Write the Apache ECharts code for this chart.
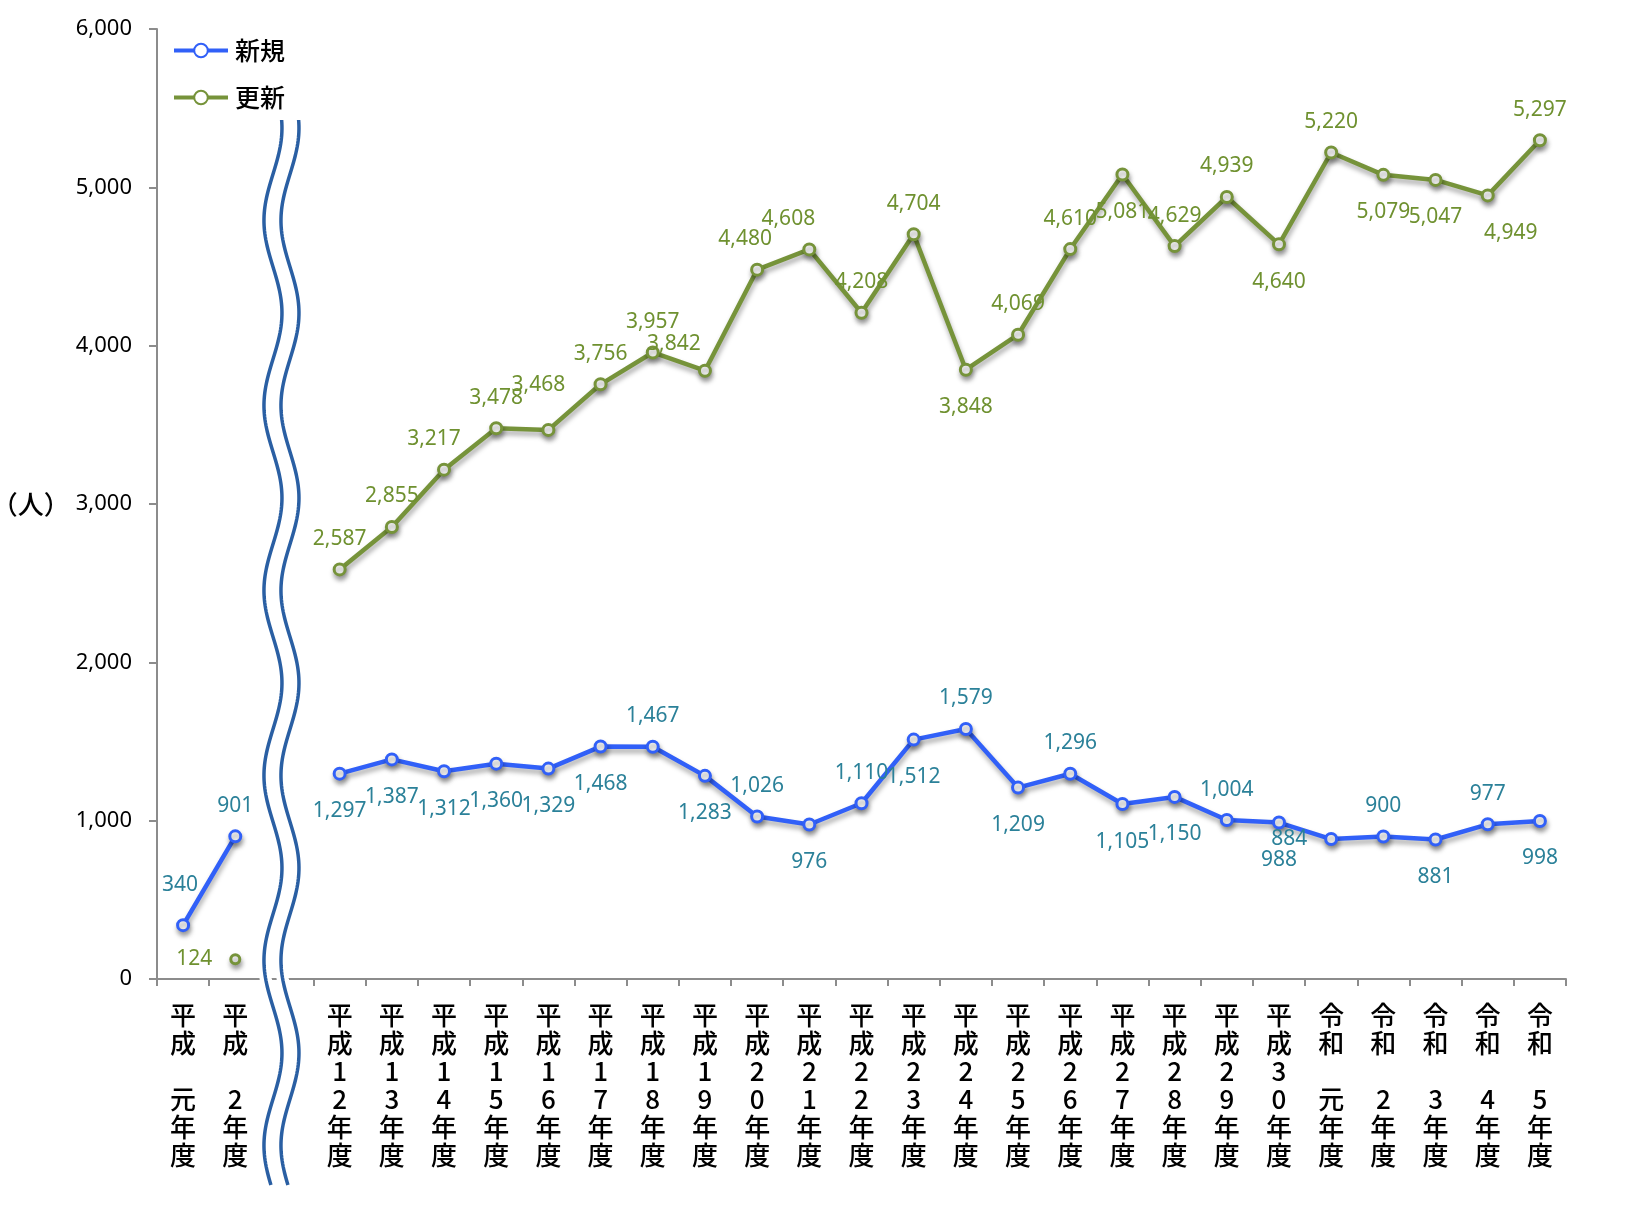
<!DOCTYPE html>
<html>
<head>
<meta charset="utf-8">
<script src="https://cdn.jsdelivr.net/npm/echarts@6/dist/echarts.min.js"></script>
<style>
html,body{margin:0;padding:0;background:#fff;}
#chart{width:1645px;height:1214px;}
</style>
</head>
<body>
<div id="chart"></div>
<script>
// ---- data ----
const categories = ['平成元年度','平成2年度','','平成12年度','平成13年度','平成14年度','平成15年度','平成16年度','平成17年度','平成18年度','平成19年度','平成20年度','平成21年度','平成22年度','平成23年度','平成24年度','平成25年度','平成26年度','平成27年度','平成28年度','平成29年度','平成30年度','令和元年度','令和2年度','令和3年度','令和4年度','令和5年度'];
const newValues = [340, 901, null, 1297, 1387, 1312, 1360, 1329, 1468, 1467, 1283, 1026, 976, 1110, 1512, 1579, 1209, 1296, 1105, 1150, 1004, 988, 884, 900, 881, 977, 998];
const renewValues = [null, 124, null, 2587, 2855, 3217, 3478, 3468, 3756, 3957, 3842, 4480, 4608, 4208, 4704, 3848, 4069, 4610, 5081, 4629, 4939, 4640, 5220, 5079, 5047, 4949, 5297];
const seriesNames = ['新規', '更新'];
const yTicks = {min: 0, max: 6000, interval: 1000};

// ---- label placement (style) ----
const newLabelPos = ['top','top',null,'bottom','bottom','bottom','bottom','bottom','bottom','top','bottom','top','bottom','top','bottom','top','bottom','top','bottom','bottom','top','bottom','left','top','bottom','top','bottom'];
const newLabelOffset = {0: [-3, -10]};
const renewLabelPos = [null,'left',null,'top','top','top','top','top','top','top','top','top','top','top','top','bottom','top','top','bottom','top','top','bottom','top','bottom','bottom','bottom','top'];
const renewLabelOffset = {5: [-10, 0], 7: [-10, -14], 10: [-31, 4], 11: [-12, 0], 12: [-21, 0], 25: [23, 0]};

const BLUE = '#3160f8', BLUE_LBL = '#2b8199';
const GREEN = '#76933a', GREEN_LBL = '#6f9130';
const NUM_FONT = '"Noto Sans", "Noto Sans CJK JP", sans-serif';
const CJK_FONT = '"Noto Sans CJK JP", "Noto Sans", sans-serif';

function fmt(v){ return Number(v).toLocaleString('en-US'); }
function vertical(name){
  if (!name) return '';
  const pre = [...name.slice(0,2)], post = [...name.slice(-2)], mid = [...name.slice(2,-2)];
  let lines = pre.slice();
  if (mid.length === 1) lines.push(' ', mid[0]); else lines = lines.concat(mid);
  lines = lines.concat(post);
  return lines.join('\n');
}
const DEFAULT_OFFSET = {top: [0, 0], bottom: [0, 7], left: [-4, 0]};
function buildData(vals, pos, offs, extra){
  return vals.map((v, i) => {
    if (v == null) return null;
    const p = pos[i] || 'top';
    const base = DEFAULT_OFFSET[p] || [0, 0];
    const o = offs[i] || [0, 0];
    const item = {value: v, label: {position: p, offset: [base[0] + o[0], base[1] + o[1]]}};
    if (extra && extra[i]) Object.assign(item, extra[i]);
    return item;
  });
}
const shadow = {shadowColor: 'rgba(0,0,0,0.35)', shadowBlur: 5, shadowOffsetX: 1, shadowOffsetY: 4};

const chart = echarts.init(document.getElementById('chart'), null, {renderer: 'canvas'});
const option = {
  backgroundColor: '#fff',
  animation: false,
  grid: {left: 157, right: 79, top: 29, bottom: 235, containLabel: false, outerBoundsMode: 'none'},
  legend: {
    orient: 'vertical', left: 172, top: 38, itemGap: 22, padding: 0,
    itemWidth: 54, itemHeight: 17,
    lineStyle: {width: 4},
    textStyle: {fontFamily: CJK_FONT, fontSize: 25, fontWeight: 500, color: '#000', padding: [0,0,0,2]},
    data: seriesNames
  },
  xAxis: {
    type: 'category', data: categories, boundaryGap: true,
    axisLine: {lineStyle: {color: '#8c8c8c', width: 2}},
    axisTick: {show: true, length: 7, interval: 0, lineStyle: {color: '#8c8c8c', width: 2}},
    axisLabel: {interval: 0, margin: 22, fontFamily: CJK_FONT, fontSize: 26, fontWeight: 500, lineHeight: 28, color: '#000', formatter: vertical}
  },
  yAxis: {
    type: 'value', min: yTicks.min, max: yTicks.max, interval: yTicks.interval,
    name: '（人）', nameLocation: 'middle', nameRotate: 0, nameGap: 86,
    nameTextStyle: {fontFamily: CJK_FONT, fontSize: 26, fontWeight: 500, color: '#000', align: 'right', verticalAlign: 'middle'},
    splitLine: {show: false},
    axisLine: {show: true, lineStyle: {color: '#8c8c8c', width: 2}},
    axisTick: {show: true, length: 8, lineStyle: {color: '#8c8c8c', width: 2}},
    axisLabel: {margin: 25, fontFamily: NUM_FONT, fontSize: 22, color: '#000', formatter: v => fmt(v)}
  },
  series: [
    {
      name: seriesNames[0], type: 'line', connectNulls: false,
      data: buildData(newValues, newLabelPos, newLabelOffset),
      symbol: 'circle', symbolSize: 11,
      lineStyle: Object.assign({color: BLUE, width: 4.5}, shadow),
      itemStyle: Object.assign({color: '#fff', borderColor: BLUE, borderWidth: 3}, shadow),
      label: {show: true, distance: 13, fontFamily: NUM_FONT, fontSize: 21, color: BLUE_LBL, formatter: p => fmt(p.value)},
      z: 3
    },
    {
      name: seriesNames[1], type: 'line', connectNulls: false,
      data: buildData(renewValues, renewLabelPos, renewLabelOffset, {1: {symbolSize: 9}}),
      symbol: 'circle', symbolSize: 11,
      lineStyle: Object.assign({color: GREEN, width: 4.5}, shadow),
      itemStyle: Object.assign({color: '#fff', borderColor: GREEN, borderWidth: 3}, shadow),
      label: {show: true, distance: 13, fontFamily: NUM_FONT, fontSize: 21, color: GREEN_LBL, formatter: p => fmt(p.value)},
      z: 2
    }
  ]
};
chart.setOption(option);

// ---- axis break (wavy double line) placed from the gap category ----
function drawBreak(){
  const gapIdx = categories.indexOf('');
  const p = chart.convertToPixel({gridIndex: 0}, [gapIdx, 0]);
  const xc = p[0] - 6, yZero = p[1];
  const yTop = yZero - 859, yBot = yZero + 206;
  const A = 9, P = 185, sep = 8.5;
  function wave(dx){
    const pts = [];
    for (let y = yTop; y <= yBot; y += 3) {
      pts.push([xc + dx + A * Math.cos(2 * Math.PI * (y - (yTop + 8)) / P), y]);
    }
    return pts;
  }
  const els = [];
  [-sep, sep].forEach(dx => {
    els.push({type: 'polyline', z: 100, shape: {points: wave(dx)}, style: {stroke: '#fff', lineWidth: 12, fill: null}});
  });
  [-sep, sep].forEach(dx => {
    els.push({type: 'polyline', z: 101, shape: {points: wave(dx)}, style: {stroke: '#2a5fa3', lineWidth: 3.5, fill: null}});
  });
  chart.setOption({graphic: {elements: els}});
}
drawBreak();
</script>
</body>
</html>
